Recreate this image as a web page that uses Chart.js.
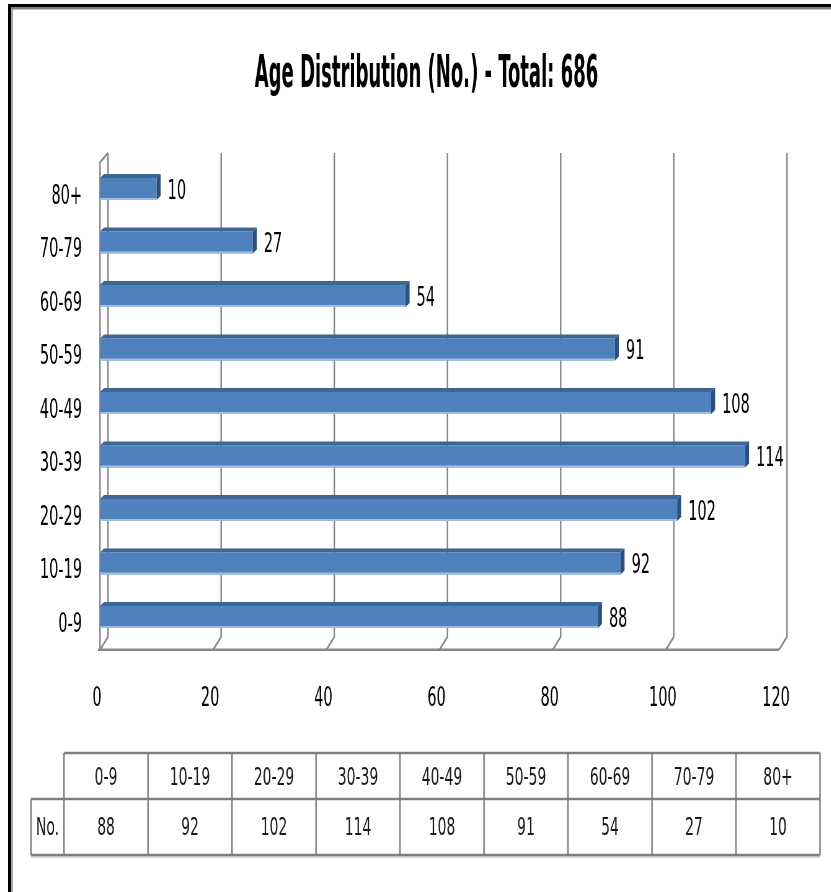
<!DOCTYPE html>
<html>
<head>
<meta charset="utf-8">
<script src="https://cdn.jsdelivr.net/npm/chart.js@4.4.1/dist/chart.umd.min.js"></script>
<style>
  html, body { margin: 0; padding: 0; width: 831px; height: 892px; overflow: hidden; background: #fff; }
  #wrap { position: absolute; left: 0; top: 0; height: 892px; transform-origin: 0 0; }
  #c { display: block; }
  .bd { position: absolute; }
</style>
</head>
<body>
<div id="wrap"><canvas id="c" height="892"></canvas></div>
<div class="bd" style="left:8px;top:4px;width:3px;height:888px;background:#000"></div>
<div class="bd" style="left:8px;top:4px;width:823px;height:3px;background:#000"></div>
<div class="bd" style="left:11px;top:7px;width:2px;height:885px;background:#a6a6a6"></div>
<div class="bd" style="left:11px;top:7px;width:820px;height:2px;background:#7f7f7f"></div>
<div class="bd" style="left:13px;top:9px;width:818px;height:1px;background:#bfbfbf"></div>
<script>
// ---- data ----
const TITLE = 'Age Distribution (No.) - Total: 686';
const CATEGORIES = ['0-9', '10-19', '20-29', '30-39', '40-49', '50-59', '60-69', '70-79', '80+'];
const COUNTS = [88, 92, 102, 114, 108, 91, 54, 27, 10];
const SERIES_NAME = 'No.';
const X_MIN = 0, X_MAX = 120, X_STEP = 20;

// ---- styling ----
const SX = 0.62; // the whole drawing is squeezed horizontally (condensed look)
const W = Math.ceil(831 / SX);
const FONT = "'Liberation Sans Narrow', 'DejaVu Sans Condensed', 'Liberation Sans', sans-serif";
const GRID = '#878787';
const VLW = 1.5 / SX; // width for (mostly) vertical rules, in unsqueezed units
const X_AXIS_H = 90;

const wrap = document.getElementById('wrap');
wrap.style.width = W + 'px';
wrap.style.transform = 'scaleX(' + SX + ')';
document.getElementById('c').width = W;

const wallPlugin = {
  id: 'wall3d',
  beforeDatasetsDraw(chart) {
    const ctx = chart.ctx, xs = chart.scales.x, ca = chart.chartArea;
    const DX = 8 / SX, DY = 13;
    const floorY = ca.bottom + 6, backFloor = floorY - DY, topY = 153;
    ctx.save();
    ctx.strokeStyle = GRID;
    ctx.lineWidth = VLW;
    xs.ticks.forEach(t => {
      const X = xs.getPixelForValue(t.value);
      ctx.beginPath();
      ctx.moveTo(X + DX, topY);
      ctx.lineTo(X + DX, backFloor);
      ctx.lineTo(X, floorY);
      ctx.stroke();
    });
    const X0 = xs.getPixelForValue(X_MIN), X1 = xs.getPixelForValue(X_MAX);
    ctx.beginPath();
    ctx.moveTo(X0, floorY);
    ctx.lineTo(X0, ca.top);
    ctx.lineTo(X0 + DX, topY);
    ctx.stroke();
    ctx.lineWidth = 2.5;
    ctx.beginPath();
    ctx.moveTo(X0 - 2 / SX, floorY);
    ctx.lineTo(X1, floorY);
    ctx.stroke();
    ctx.restore();
  }
};

const bar3dPlugin = {
  id: 'bar3d',
  afterDatasetsDraw(chart) {
    const ctx = chart.ctx;
    const meta = chart.getDatasetMeta(0);
    const dx = 4 / SX, dy = 4;
    ctx.save();
    meta.data.forEach((bar, i) => {
      const p = bar.getProps(['x', 'y', 'base', 'height'], true);
      const top = p.y - p.height / 2, bottom = p.y + p.height / 2;
      ctx.fillStyle = '#3D6596';
      ctx.beginPath();
      ctx.moveTo(p.base, top);
      ctx.lineTo(p.x, top);
      ctx.lineTo(p.x + dx, top - dy);
      ctx.lineTo(p.base + dx, top - dy);
      ctx.closePath();
      ctx.fill();
      ctx.fillStyle = '#2C4F7E';
      ctx.beginPath();
      ctx.moveTo(p.x, top);
      ctx.lineTo(p.x + dx, top - dy);
      ctx.lineTo(p.x + dx, bottom - dy);
      ctx.lineTo(p.x, bottom);
      ctx.closePath();
      ctx.fill();
      ctx.fillStyle = 'rgba(170,196,228,0.9)';
      ctx.fillRect(p.base, bottom - 2, p.x - p.base, 2);
      ctx.fillStyle = '#000';
      ctx.font = '26px ' + FONT;
      ctx.textAlign = 'left';
      ctx.textBaseline = 'middle';
      ctx.fillText(String(COUNTS[i]), p.x + 11 / SX, p.y + 3);
    });
    ctx.restore();
  }
};

const titlePlugin = {
  id: 'squeezedTitle',
  afterDraw(chart) {
    const ctx = chart.ctx;
    ctx.save();
    ctx.translate(426.5 / SX, 87);
    ctx.scale(0.455 / SX, 1);
    ctx.fillStyle = '#000';
    ctx.font = 'bold 44px ' + FONT;
    ctx.textAlign = 'center';
    ctx.textBaseline = 'alphabetic';
    ctx.fillText(TITLE, 0, 0);
    ctx.restore();
  }
};

const tablePlugin = {
  id: 'dataTable',
  afterDraw(chart) {
    const ctx = chart.ctx;
    const left = 64 / SX, colW = 84 / SX, noLeft = 31 / SX;
    const right = left + CATEGORIES.length * colW;
    const y0 = 753, y1 = 799, y2 = 855;
    ctx.save();
    ctx.strokeStyle = '#7F7F7F';
    ctx.lineWidth = 2.5;
    ctx.beginPath();
    ctx.moveTo(left, y0); ctx.lineTo(right, y0);
    ctx.moveTo(noLeft, y1); ctx.lineTo(right, y1);
    ctx.moveTo(noLeft, y2); ctx.lineTo(right, y2);
    ctx.stroke();
    ctx.strokeStyle = 'rgba(160,160,160,0.6)';
    ctx.lineWidth = 1.5;
    ctx.beginPath();
    ctx.moveTo(noLeft, y2 + 2); ctx.lineTo(right, y2 + 2);
    ctx.stroke();
    ctx.strokeStyle = '#7F7F7F';
    ctx.lineWidth = VLW;
    ctx.beginPath();
    for (let k = 0; k <= CATEGORIES.length; k++) {
      const X = left + k * colW;
      ctx.moveTo(X, y0); ctx.lineTo(X, y2);
    }
    ctx.moveTo(noLeft, y1); ctx.lineTo(noLeft, y2);
    ctx.stroke();
    ctx.fillStyle = '#1a1a1a';
    ctx.font = '25px ' + FONT;
    ctx.textAlign = 'center';
    ctx.textBaseline = 'middle';
    CATEGORIES.forEach((c, k) => {
      const cx = left + (k + 0.5) * colW;
      ctx.fillText(c, cx, 778);
      ctx.fillText(String(COUNTS[k]), cx, 828);
    });
    ctx.fillText(SERIES_NAME, (noLeft + left) / 2, 828);
    ctx.restore();
  }
};

new Chart(document.getElementById('c'), {
  type: 'bar',
  data: {
    labels: CATEGORIES,
    datasets: [{
      label: SERIES_NAME,
      data: COUNTS,
      backgroundColor: '#4F81BD',
      borderWidth: 0,
      barPercentage: 0.41,
      categoryPercentage: 1
    }]
  },
  options: {
    indexAxis: 'y',
    responsive: false,
    animation: false,
    devicePixelRatio: 1,
    layout: { padding: { left: 10, right: W - 779 / SX, top: 162.25, bottom: 892 - 643.75 - X_AXIS_H } },
    plugins: {
      legend: { display: false },
      title: { display: false },
      tooltip: { enabled: false }
    },
    scales: {
      x: {
        min: X_MIN, max: X_MAX,
        grid: { display: false, drawTicks: false },
        border: { display: false },
        ticks: { stepSize: X_STEP, padding: 40, labelOffset: -3 / SX, color: '#000', font: { family: FONT, size: 26 } },
        afterFit(s) { s.height = X_AXIS_H; }
      },
      y: {
        reverse: true,
        grid: { display: false, drawTicks: false },
        border: { display: false },
        ticks: { padding: 18 / SX, labelOffset: 8, color: '#000', font: { family: FONT, size: 26 } },
        afterFit(s) { s.width = 100 / SX - 10; }
      }
    }
  },
  plugins: [wallPlugin, bar3dPlugin, titlePlugin, tablePlugin]
});
</script>
</body>
</html>
